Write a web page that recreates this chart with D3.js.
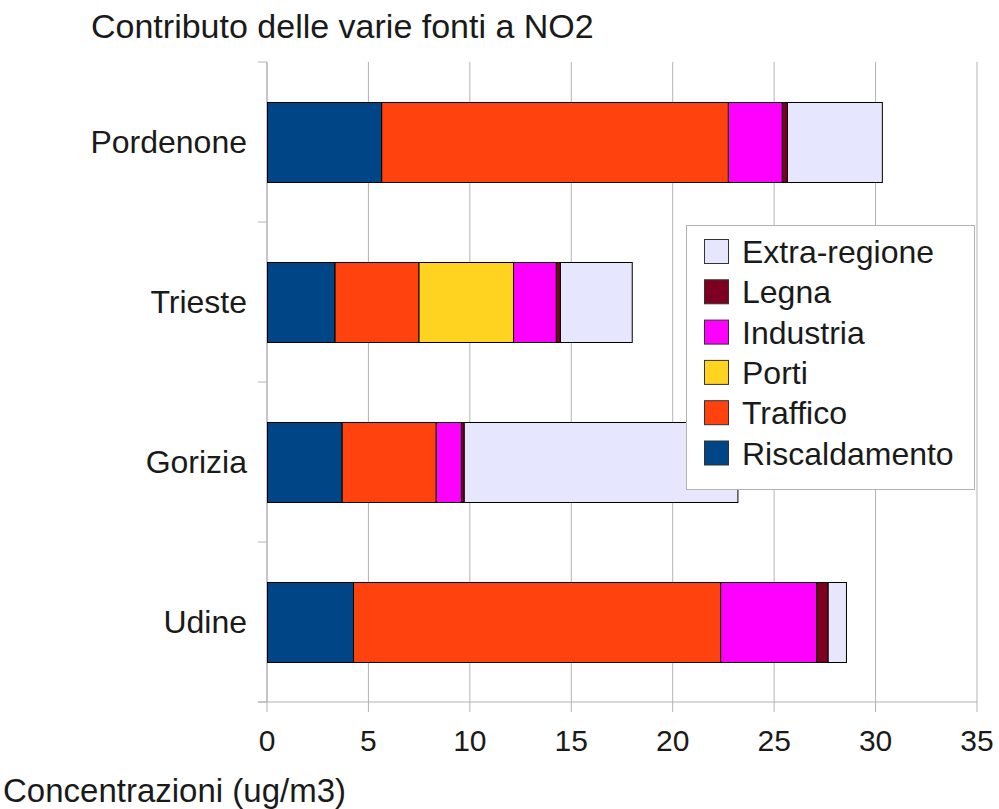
<!DOCTYPE html>
<html>
<head>
<meta charset="utf-8">
<script src="https://cdn.jsdelivr.net/npm/d3@7"></script>
<style>
  body { margin: 0; background: #fff; }
  text { font-family: "Liberation Sans", Arial, sans-serif; fill: #1a1a1a; }
</style>
</head>
<body>
<div id="chart"></div>
<script>
// dati (ug/m3)
const cities = ["Pordenone", "Trieste", "Gorizia", "Udine"];
const sources = ["Riscaldamento", "Traffico", "Porti", "Industria", "Legna", "Extra-regione"];
const riscaldamento = [5.63, 3.33, 3.68, 4.24];
const traffico = [17.09, 4.14, 4.64, 18.10];
const porti = [0, 4.66, 0, 0];
const industria = [2.66, 2.11, 1.24, 4.73];
const legna = [0.25, 0.20, 0.14, 0.57];
const extraRegione = [4.68, 3.54, 13.49, 0.90];
const xTicks = [0, 5, 10, 15, 20, 25, 30, 35];

const colors = ["#004586", "#ff420e", "#ffd320", "#ff00ff", "#7e0021", "#e6e6ff"];

const W = 999, H = 809;
const margin = { top: 62, right: 22, bottom: 107, left: 267 };
const w = W - margin.left - margin.right;
const h = H - margin.top - margin.bottom;

const svg = d3.select("#chart").append("svg").attr("width", W).attr("height", H);

svg.append("text").attr("x", 91).attr("y", 38)
  .style("font-size", "34px").text("Contributo delle varie fonti a NO2");

svg.append("text").attr("x", 3).attr("y", 802)
  .style("font-size", "33px").text("Concentrazioni (ug/m3)");

const g = svg.append("g").attr("transform", `translate(${margin.left},${margin.top})`);

const rows = cities.map((c, i) => ({
  city: c,
  Riscaldamento: riscaldamento[i],
  Traffico: traffico[i],
  Porti: porti[i],
  Industria: industria[i],
  Legna: legna[i],
  "Extra-regione": extraRegione[i]
}));

const stack = d3.stack().keys(sources)(rows);

const x = d3.scaleLinear().domain([0, 35]).range([0, w]);
const y = d3.scaleBand().domain(cities).range([0, h]).paddingInner(0.5).paddingOuter(0.25);
const yEdge = d3.scaleLinear().domain([0, cities.length]).range([0, h]);

// griglia verticale
g.append("g").selectAll("line").data(xTicks).join("line")
  .attr("x1", d => x(d)).attr("x2", d => x(d))
  .attr("y1", 0).attr("y2", h + 10)
  .attr("stroke", "#b3b3b3").attr("stroke-width", 1);

// asse categorie: tacche
g.append("g").selectAll("line").data(d3.range(cities.length + 1)).join("line")
  .attr("x1", -9).attr("x2", 0)
  .attr("y1", d => yEdge(d)).attr("y2", d => yEdge(d))
  .attr("stroke", "#b3b3b3");
g.append("line").attr("x1", 0).attr("x2", 0).attr("y1", 0).attr("y2", h).attr("stroke", "#b3b3b3");
g.append("line").attr("x1", -9).attr("x2", w).attr("y1", h).attr("y2", h).attr("stroke", "#b3b3b3");

// barre
g.append("g").selectAll("g").data(stack).join("g")
  .attr("fill", (d, i) => colors[i])
  .selectAll("rect").data(d => d.filter(s => s[1] - s[0] > 0)).join("rect")
  .attr("x", d => x(d[0]) + 0.5)
  .attr("y", d => Math.round(y(d.data.city)) + 0.5)
  .attr("width", d => x(d[1]) - x(d[0]))
  .attr("height", Math.round(y.bandwidth()))
  .attr("stroke", "#000").attr("stroke-width", 1);

// etichette categorie
g.append("g").selectAll("text").data(cities).join("text")
  .attr("x", -20).attr("y", d => y(d) + y.bandwidth() / 2 + 11)
  .attr("text-anchor", "end")
  .style("font-size", "32px").text(d => d);

// etichette asse x
g.append("g").selectAll("text").data(xTicks).join("text")
  .attr("x", d => x(d)).attr("y", h + 49)
  .attr("text-anchor", "middle")
  .style("font-size", "30px").text(d => d);

// legenda
const lg = svg.append("g").attr("transform", "translate(686,225)");
lg.append("rect").attr("x", 0.5).attr("y", 0.5).attr("width", 288).attr("height", 264)
  .attr("fill", "#fff").attr("stroke", "#b3b3b3");
const legendItems = sources.map((s, i) => ({ name: s, color: colors[i] })).reverse();
const li = lg.selectAll("g.item").data(legendItems).join("g")
  .attr("class", "item")
  .attr("transform", (d, i) => `translate(0,${27 + i * 40.3})`);
li.append("rect").attr("x", 18.5).attr("y", -12.5).attr("width", 24).attr("height", 24)
  .attr("fill", d => d.color).attr("stroke", "#333");
li.append("text").attr("x", 56).attr("y", 11)
  .style("font-size", "32px").text(d => d.name);
</script>
</body>
</html>
